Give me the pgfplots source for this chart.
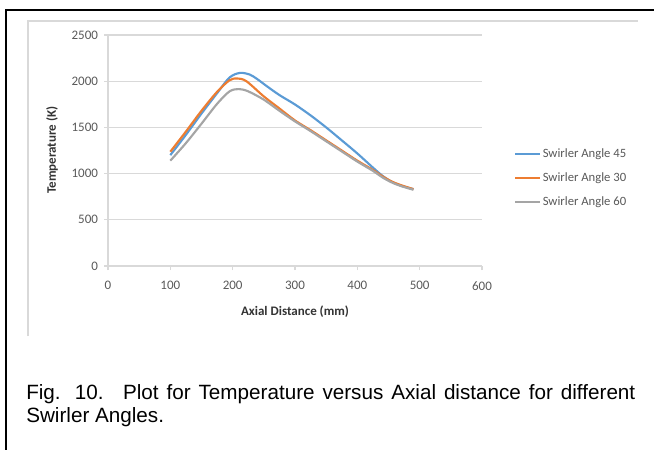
\documentclass[border=0pt]{standalone}
\usepackage{fontspec}
\usepackage{pgfplots}
\pgfplotsset{compat=1.18}
\setmainfont{Carlito}
\newfontfamily\capfont{Liberation Sans}
\definecolor{s45}{HTML}{5B9BD5}
\definecolor{s30}{HTML}{ED7D31}
\definecolor{s60}{HTML}{A5A5A5}
\definecolor{txt}{HTML}{595959}
\definecolor{grd}{HTML}{D9D9D9}

\begin{document}
\begin{tikzpicture}
\begin{scope}[x=0.75pt,y=-0.75pt]
\path[use as bounding box] (0,0) rectangle (654,450);
% outer frame (only top and left visible)
\draw[line width=1.7pt] (6,470) -- (6,10) -- (670,10);
% chart area border
\draw[grd,line width=1pt] (28,336) -- (28,21) -- (638,21);
\node[rotate=90,font=\fontsize{9.75}{11}\selectfont\bfseries,text=black!80] at (52,150) {Temperature (K)};
\node[font=\fontsize{9.75}{11}\selectfont\bfseries,text=black!80] at (295,312) {Axial Distance (mm)};
\node[anchor=base west,inner sep=0pt,font=\capfont\fontsize{15.5}{17}\selectfont] at (26,399)
  {\makebox[456.75pt][s]{Fig. 10.\hspace{4pt} Plot for Temperature versus Axial distance for different}};
\node[anchor=base west,inner sep=0pt,font=\capfont\fontsize{15.5}{17}\selectfont] at (26,422)
  {Swirler Angles.};
\end{scope}

\begin{axis}[at={(81pt,-199.5pt)},anchor=south west,
  scale only axis,width=280.5pt,height=173.25pt,
  xmin=0,xmax=600,ymin=0,ymax=2500,
  xtick={0,100,...,600},ytick={0,500,...,2500},
  axis x line*=bottom,axis y line*=left,
  axis line style={grd,line width=0.8pt,-},
  tick style={grd,line width=0.8pt},
  tick align=outside,major tick length=3pt,
  ymajorgrids,grid style={grd,line width=1pt},
  ticklabel style={font=\fontsize{9.75}{11}\selectfont,text=txt},
  /pgf/number format/assume math mode=true,
  /pgf/number format/1000 sep={},
  xticklabel style={yshift=-5pt},
  yticklabel style={xshift=-1pt},
  legend style={at={(1.075,0.528)},anchor=north west,draw=none,fill=none,
    font=\fontsize{9.5}{11}\selectfont,text=txt,row sep=8pt,
    nodes={inner sep=1pt}},
  legend cell align=left,
  legend image code/.code={\draw[#1] (0pt,0pt) -- (18.75pt,0pt);},
  every axis plot/.append style={line width=1.6pt,smooth}]
\addplot[s45] coordinates {(100,1200)(125,1420)(150,1650)(175,1870)(195,2040)(212,2090)(228,2070)(240,2020)(255,1945)(275,1850)(300,1748)(325,1630)(350,1500)(375,1360)(400,1218)(425,1065)(440,978)(455,912)(470,870)(490,832)};
\addplot[s30] coordinates {(100,1237)(125,1455)(150,1680)(175,1885)(195,2010)(207,2030)(222,2000)(250,1835)(275,1705)(300,1575)(325,1470)(350,1360)(375,1250)(400,1140)(425,1040)(440,972)(455,915)(470,875)(490,832)};
\addplot[s60] coordinates {(100,1140)(125,1330)(150,1540)(175,1755)(195,1890)(210,1915)(225,1890)(250,1800)(275,1680)(300,1565)(325,1460)(350,1350)(375,1240)(400,1130)(425,1030)(440,960)(455,905)(470,865)(490,825)};
\legend{Swirler Angle 45,Swirler Angle 30,Swirler Angle 60}
\end{axis}
\end{tikzpicture}
\end{document}
